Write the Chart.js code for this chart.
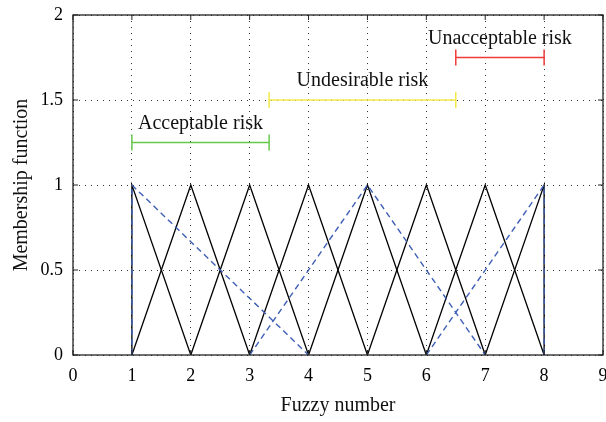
<!DOCTYPE html>
<html>
<head>
<meta charset="utf-8">
<script src="https://cdn.jsdelivr.net/npm/chart.js@4.4.0/dist/chart.umd.min.js"></script>
<style>
html,body{margin:0;padding:0;background:#fff;}
#wrap{width:606px;height:422px;position:relative;}
</style>
</head>
<body>
<div id="wrap"><canvas id="c"></canvas></div>
<script>
// Triangular fuzzy numbers (a, b, c): membership 0 at a, 1 at b, 0 at c
const fuzzyNumbers = [
  [1, 1, 2], [1, 2, 3], [2, 3, 4], [3, 4, 5],
  [4, 5, 6], [5, 6, 7], [6, 7, 8], [7, 8, 8]
];
// Risk level fuzzy sets (dashed blue)
const riskSets = [[1, 1, 4], [3, 5, 7], [6, 8, 8]];
// Risk ranges: [start, end] and level
const riskNames = ['Acceptable risk', 'Undesirable risk', 'Unacceptable risk'];
const riskRanges = [[1, 3.33], [3.33, 6.5], [6.5, 8]];
const riskLevels = [1.25, 1.5, 1.75];
const riskColors = ['#66c84a', '#f2e94a', '#ef3b3b'];
const xTicks = [0, 1, 2, 3, 4, 5, 6, 7, 8, 9];
const yTicks = [0, 0.5, 1, 1.5, 2];

const FONT = "'Liberation Serif', 'Times New Roman', serif";

function tri(t) { return [{x: t[0], y: 0}, {x: t[1], y: 1}, {x: t[2], y: 0}]; }

const datasets = [];
riskRanges.forEach((r, i) => {
  datasets.push({
    data: [{x: r[0], y: riskLevels[i]}, {x: r[1], y: riskLevels[i]}],
    borderColor: riskColors[i], backgroundColor: riskColors[i],
    borderWidth: 1.5, showLine: true,
    pointStyle: 'line', rotation: 90, pointRadius: 8, pointBorderWidth: 1.5,
    pointBorderColor: riskColors[i], pointHoverRadius: 8
  });
});
riskSets.forEach(t => {
  datasets.push({
    data: tri(t), borderColor: '#3d5fb5', borderWidth: 1.4,
    borderDash: [6, 4], showLine: true, pointRadius: 0, tension: 0
  });
});
fuzzyNumbers.forEach(t => {
  datasets.push({
    data: tri(t), borderColor: '#000', borderWidth: 1.3,
    showLine: true, pointRadius: 0, tension: 0
  });
});

const frame = {
  id: 'frame',
  afterDatasetsDraw(chart) {
    const {ctx, chartArea: a, scales} = chart;
    ctx.save();
    ctx.strokeStyle = '#222';
    ctx.lineWidth = 1.3;
    ctx.strokeRect(a.left, a.top, a.right - a.left, a.bottom - a.top);
    ctx.lineWidth = 1;
    const tl = 5;
    xTicks.forEach(v => {
      const px = scales.x.getPixelForValue(v);
      ctx.beginPath();
      ctx.moveTo(px, a.bottom); ctx.lineTo(px, a.bottom - tl);
      ctx.moveTo(px, a.top); ctx.lineTo(px, a.top + tl);
      ctx.stroke();
    });
    yTicks.forEach(v => {
      const py = scales.y.getPixelForValue(v);
      ctx.beginPath();
      ctx.moveTo(a.left, py); ctx.lineTo(a.left + tl, py);
      ctx.moveTo(a.right, py); ctx.lineTo(a.right - tl, py);
      ctx.stroke();
    });
    // risk labels
    ctx.fillStyle = '#111';
    ctx.font = '20px ' + FONT;
    ctx.textAlign = 'center';
    ctx.textBaseline = 'alphabetic';
    riskRanges.forEach((r, i) => {
      const cx = scales.x.getPixelForValue((r[0] + r[1]) / 2);
      const cy = scales.y.getPixelForValue(riskLevels[i]);
      ctx.fillText(riskNames[i], cx, cy - 14);
    });
    ctx.restore();
  }
};

new Chart(document.getElementById('c'), {
  type: 'scatter',
  data: {datasets},
  plugins: [frame],
  options: {
    responsive: true, maintainAspectRatio: false, animation: false,
    layout: {autoPadding: false, padding: {left: 0, right: 3, top: 15, bottom: 0}},
    plugins: {legend: {display: false}, tooltip: {enabled: false}},
    scales: {
      x: {
        type: 'linear', min: 0, max: 9,
        afterBuildTicks(s) { s.ticks = xTicks.map(v => ({value: v})); },
        afterFit(s) { s.height = 67; s.paddingLeft = 0; s.paddingRight = 0; },
        ticks: {color: '#000', font: {family: FONT, size: 18}, padding: 10, maxRotation: 0, autoSkip: false},
        grid: {color: '#333', lineWidth: 1, drawTicks: false},
        border: {display: false, dash: [1, 5]},
        title: {display: true, text: 'Fuzzy number', color: '#111',
                font: {family: FONT, size: 20}, padding: {top: 6, bottom: 4}}
      },
      y: {
        type: 'linear', min: 0, max: 2,
        afterBuildTicks(s) { s.ticks = yTicks.map(v => ({value: v})); },
        afterFit(s) { s.width = 73; s.paddingTop = 0; s.paddingBottom = 0; },
        ticks: {color: '#000', font: {family: FONT, size: 18}, padding: 10,
                callback: v => String(v)},
        grid: {color: '#333', lineWidth: 1, drawTicks: false},
        border: {display: false, dash: [1, 5]},
        title: {display: true, text: 'Membership function', color: '#111',
                font: {family: FONT, size: 20}, padding: {top: 10, bottom: 0}}
      }
    }
  }
});
</script>
</body>
</html>
